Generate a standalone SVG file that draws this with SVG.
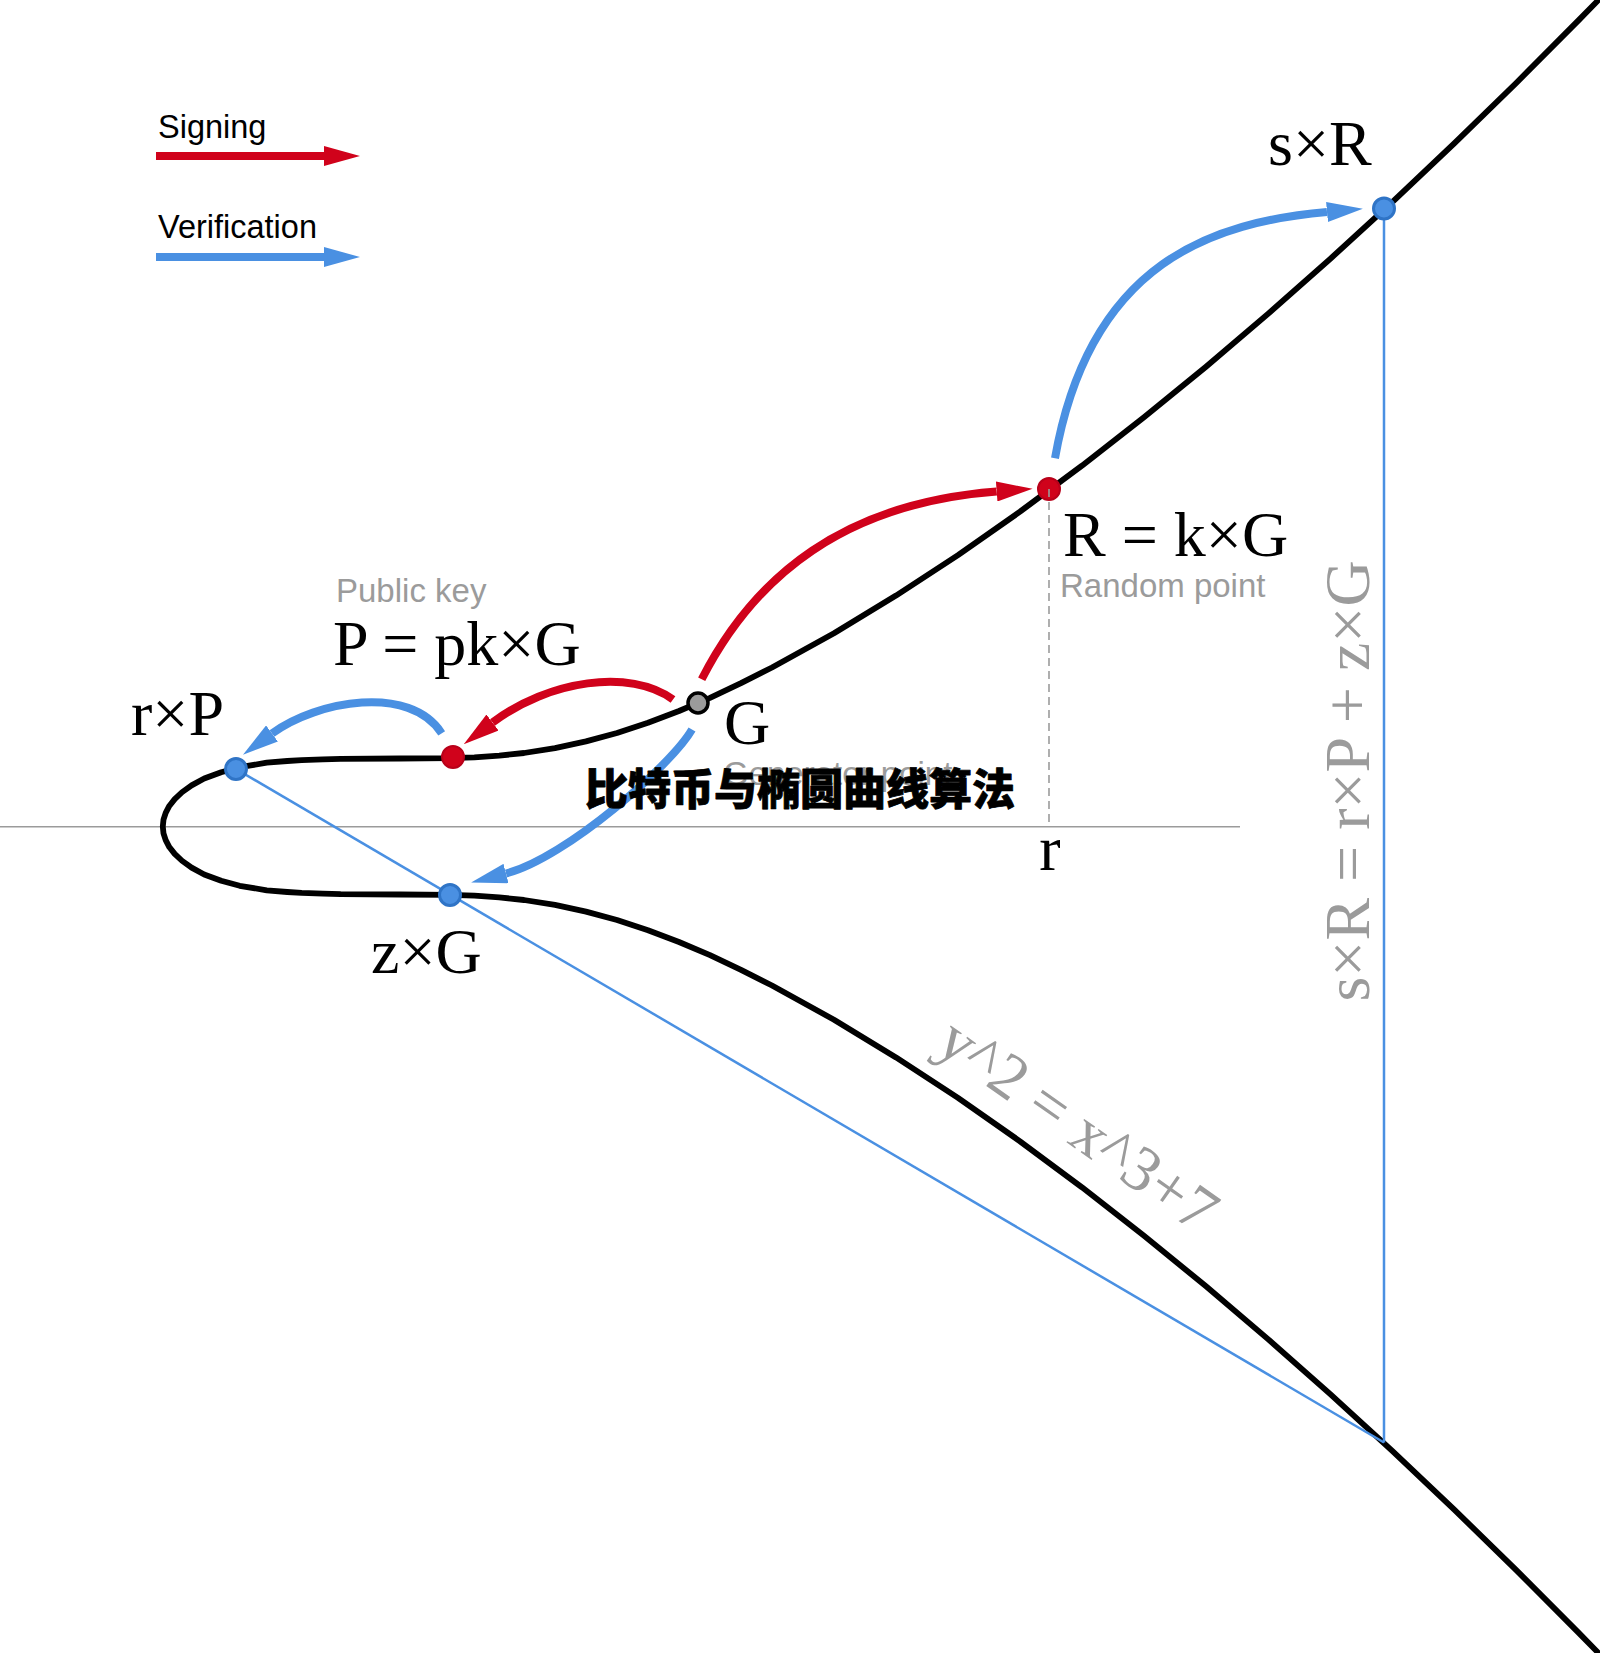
<svg xmlns="http://www.w3.org/2000/svg" width="1600" height="1653" viewBox="0 0 1600 1653">
<style>
.curve{fill:none;stroke:#000;stroke-width:5.8;stroke-linejoin:round}
.axis{stroke:#9b9b9b;stroke-width:1.5;fill:none}
.dash{stroke:#9b9b9b;stroke-width:1.6;stroke-dasharray:8 5;fill:none}
.thin{stroke:#4a90e2;stroke-width:2.5;fill:none}
.ar{fill:none;stroke:#d0021b;stroke-width:8;stroke-linecap:butt;marker-end:url(#hr)}
.ab{fill:none;stroke:#4a90e2;stroke-width:8;stroke-linecap:butt;marker-end:url(#hb)}
.dr{fill:#d0021b;stroke:#b8011a;stroke-width:2}
.db{fill:#4a90e2;stroke:#2f74c6;stroke-width:3}
.dg{fill:#9b9b9b;stroke:#000;stroke-width:3.5}
.math{font-family:"Liberation Serif","Times New Roman",serif;font-size:64px;fill:#000}
.mathg{font-family:"Liberation Serif","Times New Roman",serif;font-size:64px;fill:#9b9b9b}
.sans{font-family:"Liberation Sans",Arial,sans-serif;font-size:32.5px;fill:#000}
.sansg{font-family:"Liberation Sans",Arial,sans-serif;font-size:33px;fill:#9b9b9b}
.wm{font-family:"Noto Sans CJK SC","Noto Sans CJK TC",sans-serif;font-size:43px;font-weight:900;fill:#000;stroke:#000;stroke-width:0.8;stroke-linejoin:round}
</style>
<defs>
<marker id="hr" markerUnits="userSpaceOnUse" viewBox="0 0 36 20" refX="0" refY="10" markerWidth="36" markerHeight="20" orient="auto"><path d="M0,0 L36,10 L0,20 Z" fill="#d0021b"/></marker>
<marker id="hb" markerUnits="userSpaceOnUse" viewBox="0 0 36 20" refX="0" refY="10" markerWidth="36" markerHeight="20" orient="auto"><path d="M0,0 L36,10 L0,20 Z" fill="#4a90e2"/></marker>
</defs>
<rect width="1600" height="1653" fill="#fff"/>

<g id="legend">
<text class="sans" x="158" y="138">Signing</text>
<path class="ar" d="M156,156 L324,156"/>
<text class="sans" x="158" y="238">Verification</text>
<path class="ab" d="M156,257 L324,257"/>
</g>

<g id="axes">
<line class="axis" x1="0" y1="826.7" x2="1240" y2="826.7"/>
<path class="curve" d="M1602.8,-4.4 L1578,20.9 L1516,83.2 L1454,143.6 L1392,202.3 L1330,259.1 L1268,313.9 L1206,366.7 L1144,417.3 L1082,465.7 L1020,511.7 L958,555.1 L896,595.6 L834,633.3 L772,667.5 L741,683.2 L710,697.8 L679,711.0 L648,722.8 L617,733.0 L586,741.4 L555,748.1 L524,753.0 L499.2,755.6 L474.4,757.3 L449.6,758.2 L400,758.5 L340.7,758.8 L322.9,759.3 L301.7,760.1 L287.3,761.0 L266.8,762.7 L239.7,767.2 L221.2,772.2 L204.2,778.55 L191.6,785.4 L182.0,792.25 L174.7,799.1 L169.3,805.95 L165.7,812.8 L163.5,819.6 L162.8,826.5 L163.5,833.4 L165.7,840.2 L169.3,847.05 L174.7,853.9 L182.0,860.75 L191.6,867.6 L204.2,874.45 L221.2,880.8 L239.7,885.8 L266.8,890.3 L287.3,892.0 L301.7,892.9 L322.9,893.7 L340.7,894.2 L400,894.5 L449.6,894.8 L474.4,895.7 L499.2,897.4 L524,900.0 L555,904.9 L586,911.6 L617,920.0 L648,930.2 L679,942.0 L710,955.2 L741,969.8 L772,985.5 L834,1019.7 L896,1057.4 L958,1097.9 L1020,1141.3 L1082,1187.3 L1144,1235.7 L1206,1286.3 L1268,1339.1 L1330,1393.9 L1392,1450.7 L1454,1509.4 L1516,1569.8 L1578,1632.1 L1602.8,1657.4"/>
<text class="mathg" transform="translate(1066,1142) rotate(35)" text-anchor="middle">y^2 = x^3+7</text>
</g>

<g id="connectors">
<line class="thin" x1="236" y1="769" x2="1384" y2="1442.5"/>
<line class="thin" x1="1384" y1="209" x2="1384" y2="1442.5"/>
<path class="ar" d="M701.7,679.3 C755,575 845,503 996.7,491.5"/>
<path class="ar" d="M673,699.5 C630,668 548.4,680.3 492.5,722.5"/>
<path class="ab" d="M441.7,733.3 C410,684 317,700.5 272,733.5"/>
<path class="ab" d="M692,729.5 C672,764.5 566,858 506,873.5"/>
<path class="ab" d="M1055,458.3 C1090,260 1215,222 1327,212"/>
</g>

<g id="node-rP">
<circle class="db" cx="236" cy="769" r="10.5"/>
<text class="math" x="131" y="735">r×P</text>
</g>
<g id="node-P">
<circle class="dr" cx="453" cy="757" r="11"/>
<text class="sansg" x="336" y="602">Public key</text>
<text class="math" x="333" y="665">P = pk×G</text>
</g>
<g id="node-zG">
<circle class="db" cx="450" cy="895" r="10.5"/>
<text class="math" x="371" y="973">z×G</text>
</g>
<g id="node-G">
<circle class="dg" cx="698" cy="703" r="10"/>
<text class="math" x="724" y="744">G</text>
<text class="sansg" x="723" y="785">Generator point</text>
</g>
<g id="node-R">
<circle class="dr" cx="1049" cy="489" r="11"/>
<line class="dash" x1="1049" y1="489" x2="1049" y2="826"/>
<text class="math" x="1063" y="556">R = k×G</text>
<text class="sansg" x="1060" y="597">Random point</text>
<text class="math" x="1050" y="870" text-anchor="middle">r</text>
</g>
<g id="node-sR">
<circle class="db" cx="1384" cy="208.5" r="10.5"/>
<text class="math" x="1268" y="165">s×R</text>
<text class="mathg" transform="translate(1369,781) rotate(-90)" text-anchor="middle">s×R = r×P + z×G</text>
</g>

<g id="watermark">
<text class="wm" x="800" y="805" text-anchor="middle">比特币与椭圆曲线算法</text>
</g>
</svg>
